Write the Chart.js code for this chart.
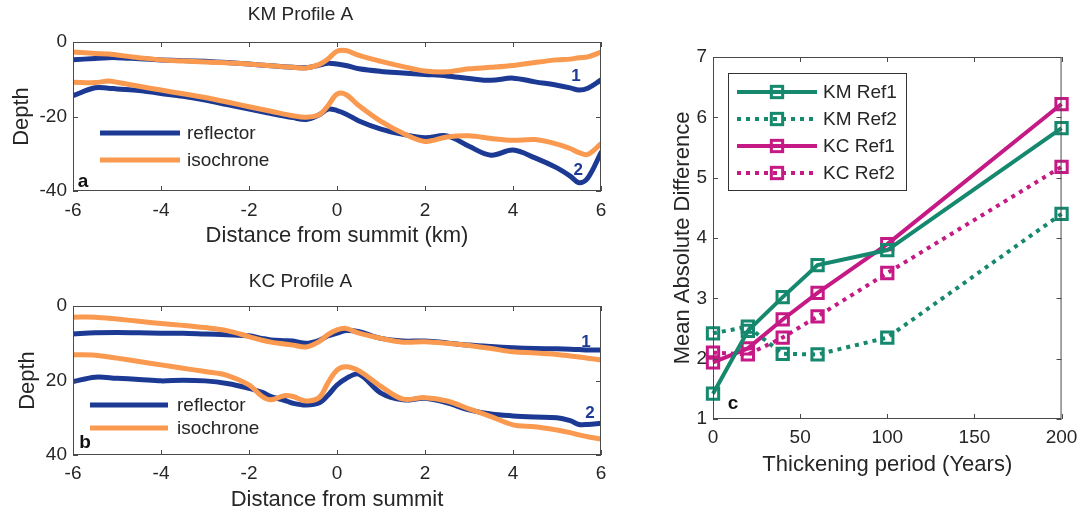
<!DOCTYPE html>
<html><head><meta charset="utf-8">
<script src="https://cdn.jsdelivr.net/npm/chart.js@4"></script>
<style>
html,body{margin:0;padding:0;background:#fff;width:1085px;height:515px;overflow:hidden}
canvas{position:absolute;display:block}
</style></head><body>
<canvas id="ca" width="620" height="255" style="left:0;top:0"></canvas>
<canvas id="cb" width="620" height="260" style="left:0;top:255px"></canvas>
<canvas id="cc" width="465" height="515" style="left:620px;top:0"></canvas>
<script>
// ---------- data ----------
const distA = [-6,-5.5,-5.2,-5,-4.5,-4,-3.5,-3,-2.5,-2,-1.5,-1,-0.7,-0.4,-0.2,0,0.2,0.5,1,1.5,2,2.5,3,3.5,4,4.5,5,5.3,5.5,5.7,6];
const kmReflector1 = [-4.8,-4.4,-4.2,-4.2,-4.5,-4.8,-5.0,-5.2,-5.5,-5.9,-6.4,-6.8,-6.9,-6.2,-5.7,-5.9,-6.3,-7.2,-7.9,-8.3,-8.7,-9.1,-9.8,-10.3,-9.7,-10.7,-11.6,-12.3,-12.9,-12.4,-10.2];
const kmIsochrone1 = [-2.7,-3.1,-3.2,-3.5,-4.2,-4.8,-5.1,-5.4,-5.6,-5.9,-6.4,-6.8,-7.0,-6.0,-4.5,-2.5,-2.3,-3.6,-5.2,-6.6,-7.8,-8.0,-7.2,-6.8,-6.3,-5.5,-4.8,-4.6,-4.2,-4.0,-2.7];
const kmReflector2 = [-14.4,-12.3,-12.4,-12.6,-13.0,-13.8,-14.6,-15.6,-16.8,-18.0,-19.2,-20.3,-20.8,-19.5,-18.0,-18.4,-19.3,-21.2,-23.4,-24.8,-25.7,-25.2,-28.0,-30.4,-29.0,-31.1,-33.8,-36.0,-37.8,-36.5,-29.7];
const kmIsochrone2 = [-10.8,-10.9,-10.5,-10.8,-11.9,-12.9,-13.9,-14.9,-16.1,-17.4,-18.6,-19.8,-20.2,-19.5,-17.0,-14.0,-14.1,-17.1,-21.3,-24.5,-26.7,-25.5,-25.2,-25.9,-26.4,-26.2,-27.4,-28.6,-29.7,-30.2,-27.3];

const distB = [-6,-5.5,-5,-4.5,-4,-3.5,-3,-2.5,-2,-1.7,-1.5,-1.2,-1,-0.7,-0.4,-0.2,0,0.2,0.5,1,1.5,2,2.5,3,3.5,4,4.5,5,5.3,5.5,5.7,6];
const kcReflector1 = [7.5,7.2,7.1,7.2,7.3,7.3,7.5,7.7,8.0,8.7,9.1,9.3,9.4,10.0,9.2,8.0,7.3,6.6,6.9,8.7,9.4,9.4,9.9,10.5,10.9,11.2,11.4,11.5,11.6,11.7,11.8,11.8];
const kcIsochrone1 = [3.0,3.0,3.5,4.1,4.7,5.2,5.8,6.6,8.2,9.2,9.7,10.2,10.5,11.0,9.5,7.6,6.4,6.0,7.3,8.7,9.7,9.6,10.0,10.6,11.4,12.3,12.6,13.0,13.4,13.7,14.0,14.5];
const kcReflector2 = [20.3,19.1,19.4,19.7,20.1,19.9,20.1,20.8,22.1,23.2,24.3,25.3,26.1,26.6,26.0,23.9,21.2,19.5,18.3,23.4,25.2,24.8,26.0,27.9,29.0,29.5,29.8,30.0,30.8,31.8,31.8,31.5];
const kcIsochrone2 = [13.1,13.2,14.0,14.9,15.8,16.7,17.6,18.6,21.2,24.3,25.2,24.1,24.3,25.5,24.5,20.5,17.2,16.3,17.4,21.6,25.0,24.6,25.5,27.6,29.7,31.9,32.4,33.3,34.0,34.6,35.1,35.7];

const thickening = [0,20,40,60,100,200];
const kmRef1 = [1.42,2.46,3.02,3.55,3.80,5.82];
const kmRef2 = [2.42,2.53,2.08,2.07,2.35,4.40];
const kcRef1 = [1.94,2.17,2.65,3.09,3.90,6.22];
const kcRef2 = [2.10,2.07,2.35,2.70,3.42,5.18];

const xTicksProfile = [-6,-4,-2,0,2,4,6];
// curve number annotations (data coords)
const kmLabels = [{t:'1',x:5.43,y:-9.3},{t:'2',x:5.48,y:-34.4}];
const kcLabels = [{t:'1',x:5.66,y:9.7},{t:'2',x:5.75,y:28.8}];

// ---------- styles ----------
const BLUE='#1c3a94', ORANGE='#f99a50', TEAL='#15886e', MAGENTA='#c51a85';
const TXT='#262626', AX='#4a4a4a';
const FF='"Liberation Sans", Arial, Helvetica, sans-serif';
Chart.defaults.font.family = FF;
Chart.defaults.color = TXT;

const pts = (xs, ys) => xs.map((x,i)=>({x, y: ys[i]}));

function framePlugin(opts){
  return {
    id:'frame'+opts.name,
    afterDatasetsDraw(chart){
      const {ctx, chartArea:a, scales:{x,y}} = chart;
      ctx.save();
      ctx.strokeStyle = AX; ctx.lineWidth = 1;
      ctx.strokeRect(a.left+0.5, a.top+0.5, a.right-a.left-1, a.bottom-a.top-1);
      const tl = 5;
      ctx.beginPath();
      x.ticks.forEach(t=>{
        const px = Math.round(x.getPixelForValue(t.value))+0.5;
        ctx.moveTo(px,a.bottom); ctx.lineTo(px,a.bottom-tl);
        ctx.moveTo(px,a.top); ctx.lineTo(px,a.top+tl);
      });
      y.ticks.forEach(t=>{
        const py = Math.round(y.getPixelForValue(t.value))+0.5;
        ctx.moveTo(a.left,py); ctx.lineTo(a.left+tl,py);
        ctx.moveTo(a.right,py); ctx.lineTo(a.right-tl,py);
      });
      ctx.stroke();
      if (opts.curveLabels){
        ctx.fillStyle = BLUE; ctx.font = 'bold 17px '+FF;
        ctx.textAlign='center'; ctx.textBaseline='middle';
        opts.curveLabels.forEach(l=>ctx.fillText(l.t, x.getPixelForValue(l.x), y.getPixelForValue(l.y)));
      }
      ctx.fillStyle = '#111'; ctx.font = 'bold 19px '+FF;
      ctx.textAlign='center'; ctx.textBaseline='middle';
      ctx.fillText(opts.letter, opts.letterX, opts.letterY);
      if (opts.legend){
        const L = opts.legend;
        if (L.box){
          ctx.fillStyle='#fff'; ctx.fillRect(L.box[0],L.box[1],L.box[2]-L.box[0],L.box[3]-L.box[1]);
          ctx.strokeStyle='#333'; ctx.lineWidth=1;
          ctx.strokeRect(L.box[0]+0.5,L.box[1]+0.5,L.box[2]-L.box[0],L.box[3]-L.box[1]);
        }
        L.items.forEach((idx,i)=>{
          const ds = chart.data.datasets[idx];
          const yy = L.y0 + i*L.dy;
          ctx.save();
          ctx.strokeStyle = ds.borderColor; ctx.lineWidth = ds.borderWidth;
          ctx.setLineDash(ds.borderDash||[]);
          ctx.beginPath(); ctx.moveTo(L.x1,yy); ctx.lineTo(L.x2,yy); ctx.stroke();
          ctx.setLineDash([]);
          if (ds.pointStyle==='rect'){
            const s = Math.SQRT1_2*ds.pointRadius;
            ctx.lineWidth = ds.pointBorderWidth;
            ctx.strokeRect((L.x1+L.x2)/2 - s, yy - s, 2*s, 2*s);
          }
          ctx.restore();
          ctx.fillStyle = TXT; ctx.font = '19px '+FF;
          ctx.textAlign='left'; ctx.textBaseline='middle';
          ctx.fillText(ds.label, L.tx, yy+1);
        });
      }
      ctx.restore();
    }
  };
}

function profileChart(id, cfg){
  // dataset order: index 0 drawn on top
  return new Chart(document.getElementById(id), {
    type:'line',
    data:{datasets:[
      {label:'isochrone', data:pts(cfg.xs,cfg.i2), borderColor:ORANGE, borderWidth:5},
      {label:'reflector', data:pts(cfg.xs,cfg.r2), borderColor:BLUE, borderWidth:5},
      {label:'isochrone', data:pts(cfg.xs,cfg.i1), borderColor:ORANGE, borderWidth:5},
      {label:'reflector', data:pts(cfg.xs,cfg.r1), borderColor:BLUE, borderWidth:5},
    ]},
    options:{
      responsive:false, animation:false, devicePixelRatio:1,
      layout:{padding:{left:0,right:19,top:0,bottom:0}},
      elements:{point:{radius:0}, line:{tension:0.35, borderCapStyle:'round', borderJoinStyle:'round'}},
      plugins:{
        legend:{display:false}, tooltip:{enabled:false},
        title:{display:true, text:cfg.title, color:TXT, font:{size:19, weight:'normal'}, padding:cfg.titlePad}
      },
      scales:{
        x:{type:'linear', min:-6, max:6,
          afterBuildTicks: s=>{ s.ticks = xTicksProfile.map(v=>({value:v})); },
          ticks:{padding:cfg.xTickPad, font:{size:19}, color:TXT, autoSkip:false, maxRotation:0},
          grid:{display:false, drawTicks:false}, border:{display:false},
          title:{display:true, text:cfg.xTitle, color:TXT, font:{size:22}, padding:{top:0,bottom:cfg.xTitleBottom}},
          afterFit: s=>{ s.height = cfg.xHeight; }},
        y:{type:'linear', min:cfg.ymin, max:cfg.ymax, reverse:cfg.reverse,
          ticks:{stepSize:20, padding:6, font:{size:19}, color:TXT},
          grid:{display:false, drawTicks:false}, border:{display:false},
          title:{display:true, text:'Depth', color:TXT, font:{size:22}, padding:{top:cfg.yTitleTop,bottom:0}},
          afterFit: s=>{ s.width = 73; }}
      }
    },
    plugins:[framePlugin({name:id, letter:cfg.letter, letterX:cfg.letterX, letterY:cfg.letterY, curveLabels:cfg.labels,
      legend:{items:[1,0], x1:cfg.legX1, x2:cfg.legX2, tx:cfg.legTx, y0:cfg.legY0, dy:cfg.legDy}})]
  });
}

const chartA = profileChart('ca', {
  xs:distA, r1:kmReflector1, i1:kmIsochrone1, r2:kmReflector2, i2:kmIsochrone2,
  title:'KM Profile A', titlePad:{top:3.6,bottom:15.6}, xTitle:'Distance from summit (km)',
  xTickPad:8, xTitleBottom:5.8, xHeight:64, ymin:-40, ymax:0, reverse:false, yTitleTop:8.8,
  letter:'a', letterX:83, letterY:182, labels:kmLabels,
  legX1:100, legX2:180, legTx:187, legY0:133, legDy:27
});
const chartB = profileChart('cb', {
  xs:distB, r1:kcReflector1, i1:kcIsochrone1, r2:kcReflector2, i2:kcIsochrone2,
  title:'KC Profile A', titlePad:{top:15.6,bottom:12.6}, xTitle:'Distance from summit',
  xTickPad:7, xTitleBottom:1.8, xHeight:60, ymin:0, ymax:40, reverse:true, yTitleTop:14.8,
  letter:'b', letterX:85, letterY:188, labels:kcLabels,
  legX1:90, legX2:168, legTx:177, legY0:150, legDy:23
});

const chartC = new Chart(document.getElementById('cc'), {
  type:'line',
  data:{datasets:[
    {label:'KM Ref1', data:pts(thickening,kmRef1), borderColor:TEAL, borderWidth:4},
    {label:'KM Ref2', data:pts(thickening,kmRef2), borderColor:TEAL, borderWidth:4, borderDash:[4,5]},
    {label:'KC Ref1', data:pts(thickening,kcRef1), borderColor:MAGENTA, borderWidth:4},
    {label:'KC Ref2', data:pts(thickening,kcRef2), borderColor:MAGENTA, borderWidth:4, borderDash:[4,5]},
  ].map(d=>Object.assign(d,{pointStyle:'rect', pointRadius:8, pointBorderWidth:3, clip:false,
      pointBorderColor:d.borderColor, pointBackgroundColor:'rgba(0,0,0,0)', tension:0}))},
  options:{
    responsive:false, animation:false, devicePixelRatio:1,
    layout:{padding:{left:0,right:21,top:57,bottom:0}},
    plugins:{legend:{display:false}, tooltip:{enabled:false}, title:{display:false}},
    scales:{
      x:{type:'linear', min:0, max:200,
        ticks:{stepSize:50, padding:7.6, font:{size:19}, color:TXT, autoSkip:false, maxRotation:0},
        grid:{display:false, drawTicks:false}, border:{display:false},
        title:{display:true, text:'Thickening period (Years)', color:TXT, font:{size:22}, padding:{top:0,bottom:36.8}},
        afterFit: s=>{ s.height = 96; }},
      y:{type:'linear', min:1, max:7,
        ticks:{stepSize:1, padding:6, font:{size:19}, color:TXT},
        grid:{display:false, drawTicks:false}, border:{display:false},
        title:{display:true, text:'Mean Absolute Difference', color:TXT, font:{size:22}, padding:{top:49.8,bottom:0}},
        afterFit: s=>{ s.width = 93; }}
    }
  },
  plugins:[framePlugin({name:'cc', letter:'c', letterX:113, letterY:404,
    legend:{items:[0,1,2,3], box:[108,73,286,190], x1:117, x2:197, tx:203, y0:92, dy:27}})]
});
</script>
</body></html>
